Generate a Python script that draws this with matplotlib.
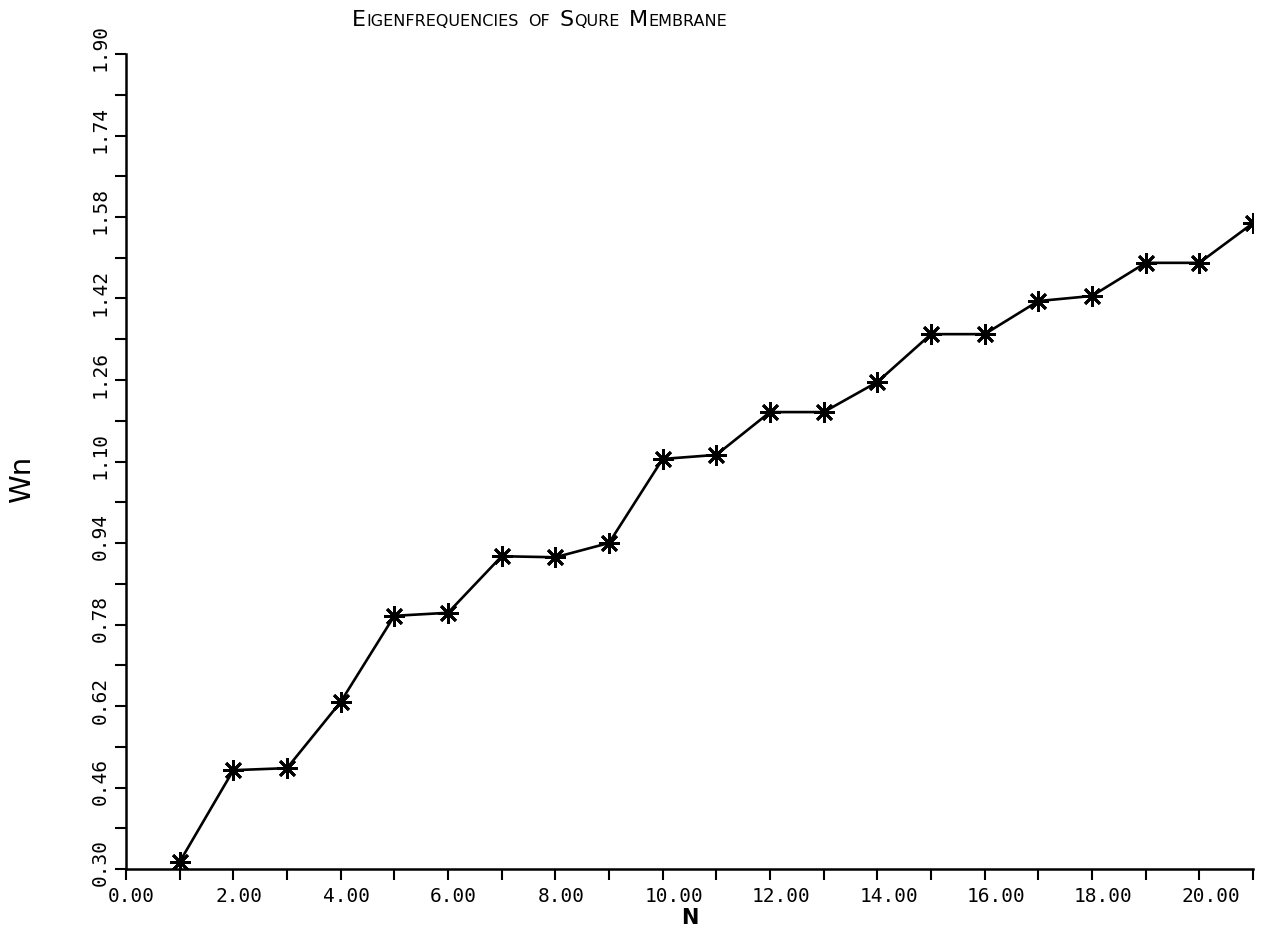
import matplotlib
matplotlib.use("Agg")
import matplotlib.pyplot as plt
import matplotlib.transforms as mtransforms
from matplotlib.offsetbox import TextArea, HPacker, AnchoredOffsetbox

# mode number and eigenfrequency
n_values = [1, 2, 3, 4, 5, 6, 7, 8, 9, 10, 11, 12, 13, 14, 15, 16, 17, 18, 19, 20, 21]
wn_values = [0.314, 0.494, 0.498, 0.628, 0.797, 0.803, 0.914, 0.912, 0.940, 1.105,
             1.113, 1.197, 1.197, 1.256, 1.350, 1.350, 1.415, 1.425, 1.490, 1.490, 1.568]

x_ticks = list(range(0, 22))
x_labels = ["%.2f" % v if (v % 2 == 0 and v <= 20) else "" for v in x_ticks]
y_ticks = [0.30 + 0.08 * i for i in range(21)]
y_labels = ["%.2f" % v if i % 2 == 0 else "" for i, v in enumerate(y_ticks)]

title_words = [("E", "IGENFREQUENCIES"), ("", "OF"), ("S", "QURE"), ("M", "EMBRANE")]

fig = plt.figure(figsize=(12.71, 9.34), dpi=100)
ax = fig.add_axes([126 / 1271, 1 - 869 / 934, (1253 - 126) / 1271, (869 - 54) / 934])

ax.plot(n_values, wn_values, color="black", lw=1.9,
        marker=(8, 2, 0), markersize=15, markeredgewidth=2.0, markeredgecolor="black")

ax.set_xlim(0, 21)
ax.set_ylim(0.30, 1.90)
for s in ["top", "right"]:
    ax.spines[s].set_visible(False)
for s in ["left", "bottom"]:
    ax.spines[s].set_linewidth(1.8)

tick_font = dict(family="DejaVu Sans Mono", size=14)
ax.set_xticks(x_ticks)
ax.set_xticklabels(x_labels, **tick_font)
ax.set_yticks(y_ticks)
ax.set_yticklabels(y_labels, **tick_font)
ax.tick_params(axis="both", direction="out", length=8, width=1.5, color="black")
ax.tick_params(axis="x", pad=5)
ax.tick_params(axis="y", pad=4)

# plotter-style label placement: x labels start left of tick, y labels rotated
dx = mtransforms.ScaledTranslation(-18 / 100, 0, fig.dpi_scale_trans)
for lab in ax.get_xticklabels():
    lab.set_horizontalalignment("left")
    lab.set_transform(lab.get_transform() + dx)
dy = mtransforms.ScaledTranslation(0, 6 / 100, fig.dpi_scale_trans)
for lab in ax.get_yticklabels():
    lab.set_rotation(90)
    lab.set_verticalalignment("center")
    lab.set_transform(lab.get_transform() + dy)

fig.text(690 / 1271, 1 - 918 / 934, "N", ha="center", va="center",
         fontsize=15, fontweight="bold", family="DejaVu Sans")
fig.text(22 / 1271, 1 - 479 / 934, "Wn", ha="center", va="center", rotation=90,
         fontsize=21, family="DejaVu Sans")

# small-caps title
words = []
for big, small in title_words:
    parts = []
    if big:
        parts.append(TextArea(big, textprops=dict(fontsize=16, family="DejaVu Sans")))
    parts.append(TextArea(small, textprops=dict(fontsize=11.5, family="DejaVu Sans")))
    words.append(HPacker(children=parts, pad=0, sep=0, align="baseline"))
title_box = HPacker(children=words, pad=0, sep=7, align="baseline")
anchored = AnchoredOffsetbox(loc="lower left", child=title_box, pad=0, borderpad=0,
                             frameon=False, bbox_to_anchor=(352 / 1271, 1 - 30 / 934),
                             bbox_transform=fig.transFigure)
fig.add_artist(anchored)

fig.savefig("out.png", dpi=100)
